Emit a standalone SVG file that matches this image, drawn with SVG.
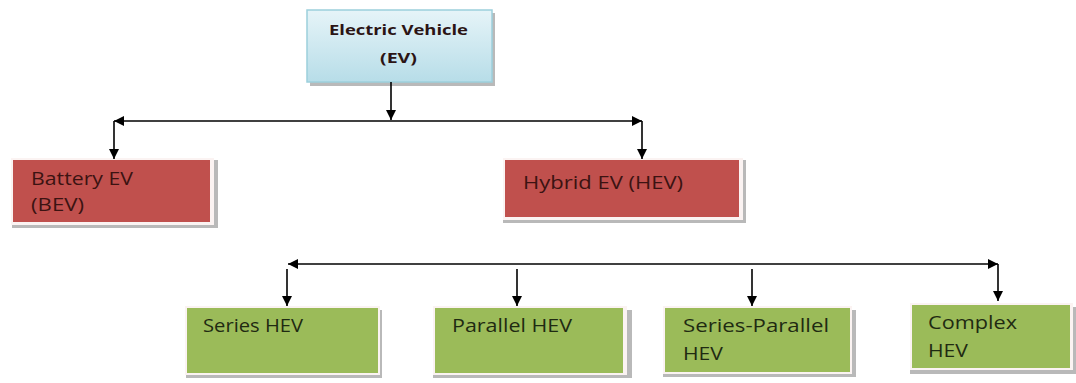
<svg xmlns="http://www.w3.org/2000/svg" width="1076" height="383" viewBox="0 0 1076 383">
  <style>
    .shadow { fill: #b9b9b9; }
    .rim { fill: #fbf3f2; }
    .red { fill: #c0504d; }
    .green { fill: #9bbb59; }
    .lbl { font-family: "Open Sans", "Noto Sans", sans-serif; font-size: 18px; }
    .lbl-red { fill: #3b1312; }
    .lbl-green { fill: #1f2a12; }
    .lbl-top { font-family: "Open Sans", "Noto Sans", sans-serif; font-size: 15px; font-weight: bold; fill: #2b1414; }
    .wire { stroke: #000; stroke-width: 1.6; fill: none; }
  </style>
  <defs>
    <linearGradient id="skyFill" x1="0" y1="0" x2="0" y2="1">
      <stop offset="0" stop-color="#e6f4f8"/>
      <stop offset="1" stop-color="#b7dde8"/>
    </linearGradient>
    <marker id="tip" viewBox="0 0 10 10" refX="10" refY="5" markerWidth="10" markerHeight="10" markerUnits="userSpaceOnUse" orient="auto-start-reverse">
      <path d="M0,0 L10,5 L0,10 Z" fill="#000"/>
    </marker>
  </defs>

  <rect width="1076" height="383" fill="#ffffff"/>

  <!-- root node -->
  <g id="node-ev">
    <rect class="shadow" x="310" y="13" width="185" height="73"/>
    <rect x="307" y="10" width="185" height="72" fill="url(#skyFill)" stroke="#9ccfdc" stroke-width="1.5"/>
    <text class="lbl-top" x="329" y="35" textLength="139" lengthAdjust="spacingAndGlyphs">Electric Vehicle</text>
    <text class="lbl-top" x="380" y="63" textLength="37" lengthAdjust="spacingAndGlyphs">(EV)</text>
  </g>

  <!-- first level -->
  <g id="node-bev">
    <rect class="shadow" x="12" y="160" width="206" height="68"/>
    <rect class="rim" x="11" y="158" width="203" height="67"/>
    <rect class="red" x="13" y="160" width="197" height="62"/>
    <text class="lbl lbl-red" x="31" y="185" textLength="102" lengthAdjust="spacingAndGlyphs">Battery EV</text>
    <text class="lbl lbl-red" x="31" y="211" textLength="53" lengthAdjust="spacingAndGlyphs">(BEV)</text>
  </g>

  <g id="node-hev">
    <rect class="shadow" x="503" y="160" width="243" height="63"/>
    <rect class="rim" x="503" y="158" width="240" height="62"/>
    <rect class="red" x="505" y="160" width="234" height="57"/>
    <text class="lbl lbl-red" x="523" y="189" textLength="160" lengthAdjust="spacingAndGlyphs">Hybrid EV (HEV)</text>
  </g>

  <!-- hybrid sub-types -->
  <g id="node-series">
    <rect class="shadow" x="186" y="310" width="196" height="68"/>
    <rect class="rim" x="185" y="306" width="195" height="69"/>
    <rect class="green" x="187" y="308" width="191" height="65"/>
    <text class="lbl lbl-green" x="203" y="332" textLength="100" lengthAdjust="spacingAndGlyphs">Series HEV</text>
  </g>

  <g id="node-parallel">
    <rect class="shadow" x="433" y="310" width="199" height="68"/>
    <rect class="rim" x="433" y="306" width="194" height="69"/>
    <rect class="green" x="435" y="308" width="188" height="65"/>
    <text class="lbl lbl-green" x="452" y="332" textLength="120" lengthAdjust="spacingAndGlyphs">Parallel HEV</text>
  </g>

  <g id="node-series-parallel">
    <rect class="shadow" x="663" y="310" width="193" height="67"/>
    <rect class="rim" x="663" y="306" width="189" height="68"/>
    <rect class="green" x="665" y="308" width="185" height="64"/>
    <text class="lbl lbl-green" x="683" y="332" textLength="146" lengthAdjust="spacingAndGlyphs">Series-Parallel</text>
    <text class="lbl lbl-green" x="683" y="360" textLength="40" lengthAdjust="spacingAndGlyphs">HEV</text>
  </g>

  <g id="node-complex">
    <rect class="shadow" x="910" y="307" width="166" height="67"/>
    <rect class="rim" x="910" y="303" width="163" height="67"/>
    <rect class="green" x="912" y="305" width="158" height="63"/>
    <text class="lbl lbl-green" x="928" y="329" textLength="89" lengthAdjust="spacingAndGlyphs">Complex</text>
    <text class="lbl lbl-green" x="928" y="357" textLength="40" lengthAdjust="spacingAndGlyphs">HEV</text>
  </g>

  <!-- connectors -->
  <g id="connectors">
    <line class="wire" x1="391" y1="82" x2="391" y2="120" marker-end="url(#tip)"/>
    <line class="wire" x1="114" y1="121" x2="642" y2="121" marker-start="url(#tip)" marker-end="url(#tip)"/>
    <line class="wire" x1="114" y1="121" x2="114" y2="159" marker-end="url(#tip)"/>
    <line class="wire" x1="642" y1="121" x2="642" y2="159" marker-end="url(#tip)"/>

    <line class="wire" x1="288" y1="264" x2="998" y2="264" marker-start="url(#tip)" marker-end="url(#tip)"/>
    <line class="wire" x1="287" y1="269" x2="287" y2="306" marker-end="url(#tip)"/>
    <line class="wire" x1="517" y1="269" x2="517" y2="306" marker-end="url(#tip)"/>
    <line class="wire" x1="752" y1="269" x2="752" y2="306" marker-end="url(#tip)"/>
    <line class="wire" x1="998" y1="264" x2="998" y2="301" marker-end="url(#tip)"/>
  </g>
</svg>
